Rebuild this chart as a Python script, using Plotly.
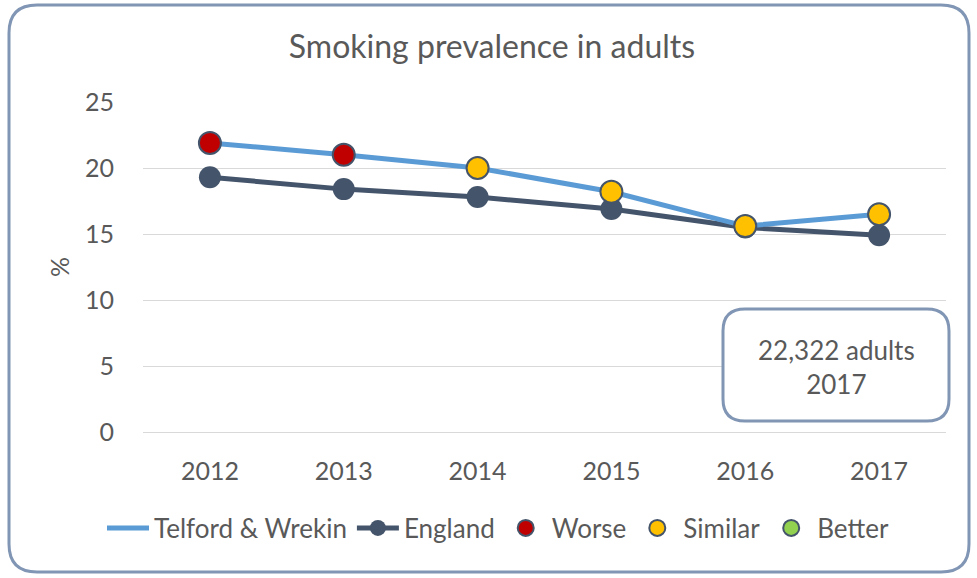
import plotly.graph_objects as go

years = ["2012", "2013", "2014", "2015", "2016", "2017"]
telford = [21.9, 21.0, 20.0, 18.2, 15.6, 16.5]
england = [19.3, 18.4, 17.8, 16.9, 15.5, 14.9]
status = ["Worse", "Worse", "Similar", "Similar", "Similar", "Similar"]
status_colors = {"Worse": "#C00000", "Similar": "#FFC000", "Better": "#92D050"}
yticks = [0, 5, 10, 15, 20, 25]

W, H = 977, 578
L, R, T, B = 143, 31, 102, 146
pw, ph = W - L - R, H - T - B
FONT = "Lato"
GREY = "#595959"

def px(x):
    return (x - L) / pw

def py(y):
    return (H - B - y) / ph

def rounded(x0, y0, x1, y1, r):
    X = lambda v: f"{px(v):.5f}"
    Y = lambda v: f"{py(v):.5f}"
    return (f"M {X(x0+r)},{Y(y0)} L {X(x1-r)},{Y(y0)} Q {X(x1)},{Y(y0)} {X(x1)},{Y(y0+r)} "
            f"L {X(x1)},{Y(y1-r)} Q {X(x1)},{Y(y1)} {X(x1-r)},{Y(y1)} "
            f"L {X(x0+r)},{Y(y1)} Q {X(x0)},{Y(y1)} {X(x0)},{Y(y1-r)} "
            f"L {X(x0)},{Y(y0+r)} Q {X(x0)},{Y(y0)} {X(x0+r)},{Y(y0)} Z")

fig = go.Figure()
fig.add_trace(go.Scatter(x=years, y=england, mode="lines+markers", name="England",
                         line=dict(color="#44546A", width=5),
                         marker=dict(size=22, color="#44546A"), legendrank=2))
fig.add_trace(go.Scatter(x=years, y=telford, mode="lines", name="Telford & Wrekin",
                         line=dict(color="#5B9BD5", width=5), legendrank=1))

for i, s in enumerate(["Worse", "Similar", "Better"]):
    xs = [y for y, st in zip(years, status) if st == s]
    ys = [v for v, st in zip(telford, status) if st == s]
    if not xs:
        xs, ys = [None], [None]
    fig.add_trace(go.Scatter(x=xs, y=ys, mode="markers", name=s,
                             marker=dict(size=22, color=status_colors[s],
                                         line=dict(color="#44546A", width=2)),
                             legendrank=3 + i))

fig.update_layout(
    width=W, height=H,
    margin=dict(l=L, r=R, t=T, b=B, autoexpand=False),
    paper_bgcolor="white", plot_bgcolor="white",
    font=dict(family=FONT, color=GREY, size=25),
    title=dict(text="Smoking prevalence in adults", x=px(492), xref="paper", xanchor="center",
               y=1 - 47 / H, yanchor="middle", font=dict(size=32, color=GREY, family=FONT)),
    showlegend=True,
    legend=dict(orientation="h", xref="container", yref="container",
                x=498 / W, xanchor="center", y=1 - 528 / H, yanchor="middle",
                font=dict(size=26, color=GREY, family=FONT),
                itemwidth=42, tracegroupgap=0, traceorder="normal"),
    xaxis=dict(type="category", range=[-0.5, 5.5], showgrid=False,
               showline=True, linecolor="#d9d9d9", linewidth=1, ticks="",
               tickfont=dict(size=25, color=GREY), ticklabelstandoff=17),
    yaxis=dict(range=[0, 25], tickvals=yticks, showgrid=True, gridcolor="#d9d9d9",
               gridwidth=1, zeroline=False, showline=False, ticks="",
               tickfont=dict(size=25, color=GREY), ticklabelstandoff=28,
               title=dict(text="%", font=dict(size=25, color=GREY), standoff=8)),
    shapes=[
        dict(type="path", xref="paper", yref="paper", path=rounded(9, 5, 969, 572, 28),
             line=dict(color="#8096B4", width=3), fillcolor="rgba(0,0,0,0)", layer="above"),
        dict(type="path", xref="paper", yref="paper", path=rounded(723, 309, 949, 421, 22),
             line=dict(color="#8096B4", width=3), fillcolor="white", layer="above"),
    ],
    annotations=[
        dict(text="22,322 adults<br>2017", xref="paper", yref="paper", x=px(836), y=py(367),
             xanchor="center", yanchor="middle", showarrow=False,
             font=dict(size=26, color=GREY, family=FONT), align="center"),
    ],
)

fig.write_html("out.html")
